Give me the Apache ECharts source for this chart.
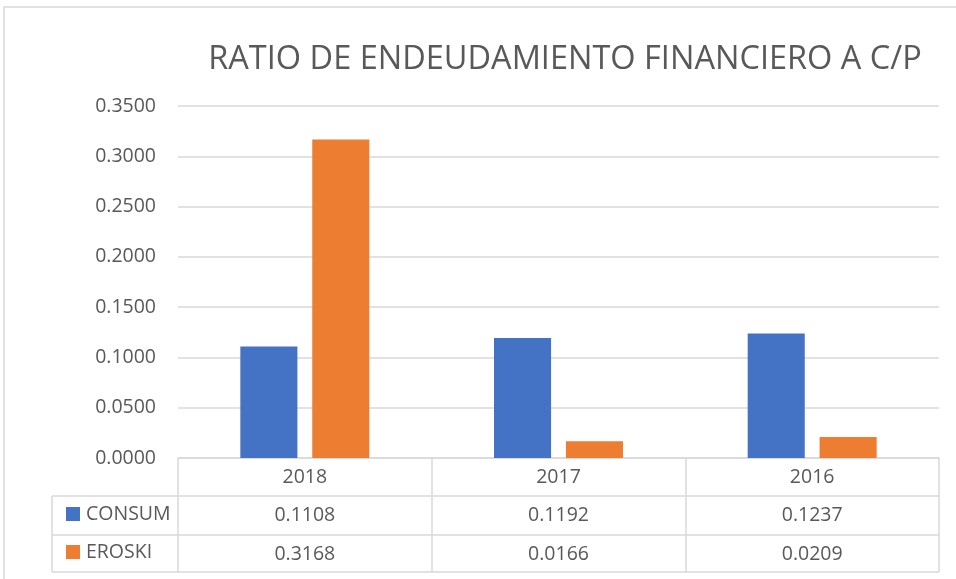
<!DOCTYPE html>
<html><head><meta charset="utf-8">
<script src="https://cdn.jsdelivr.net/npm/echarts@6/dist/echarts.min.js"></script>
<style>html,body{margin:0;padding:0;background:#fff}#c{width:956px;height:579px}</style>
</head><body><div id="c"></div>
<script>
const title = 'RATIO DE ENDEUDAMIENTO FINANCIERO A C/P';
const categories = ['2018', '2017', '2016'];
const seriesNames = ['CONSUM', 'EROSKI'];
const consum = [0.1108, 0.1192, 0.1237];
const eroski = [0.3168, 0.0166, 0.0209];
const yTicks = { min: 0, max: 0.35, interval: 0.05 };

const FONT = '"Open Sans", sans-serif';
const TXT = '#595959';
const LINE = '#d9d9d9';
const FS = 19.5;
const gridL = 178, gridR = 939, gridT = 106, gridB = 458;
const rowH = [496, 535, 572];

const chart = echarts.init(document.getElementById('c'), null, {renderer: 'canvas'});
const fmt = v => v.toFixed(4);
const tableAxis = (data, offset) => ({
  type: 'category', data: data.map(fmt), position: 'bottom', offset: offset,
  axisLine: {show: false}, axisTick: {show: false}, splitLine: {show: false},
  axisLabel: {color: TXT, fontFamily: FONT, fontSize: FS, margin: 9, interval: 0}
});
chart.setOption({
  animation: false,
  title: {text: title, left: 560, top: 38, textAlign: 'center',
    textStyle: {color: TXT, fontFamily: FONT, fontWeight: 400, fontSize: 32.5}},
  legend: {orient: 'vertical', left: 61, top: 499, itemWidth: 14, itemHeight: 14, itemGap: 18,
    icon: 'rect', data: seriesNames,
    textStyle: {color: TXT, fontFamily: FONT, fontSize: FS, padding: [0, 0, 0, 1]}},
  grid: {left: gridL, right: 956 - gridR, top: gridT, bottom: 579 - gridB, containLabel: false},
  xAxis: [
    {type: 'category', data: categories,
      axisLine: {show: true, lineStyle: {color: LINE, width: 1.5}},
      axisTick: {show: true, length: 114, lineStyle: {color: LINE, width: 1.5}},
      axisLabel: {color: TXT, fontFamily: FONT, fontSize: FS, margin: 9}},
    tableAxis(consum, 38),
    tableAxis(eroski, 77)
  ],
  yAxis: {type: 'value', min: yTicks.min, max: yTicks.max, interval: yTicks.interval,
    axisLine: {show: false}, axisTick: {show: false},
    axisLabel: {color: TXT, fontFamily: FONT, fontSize: FS, margin: 22, formatter: v => v.toFixed(4)},
    splitLine: {lineStyle: {color: LINE, width: 1.5}}},
  series: [
    {name: seriesNames[0], type: 'bar', data: consum, barWidth: '22.5%', barGap: '26%',
      itemStyle: {color: '#4472C4'}},
    {name: seriesNames[1], type: 'bar', data: eroski, barWidth: '22.5%', barGap: '26%',
      itemStyle: {color: '#ED7D31'}}
  ],
  graphic: [
    {type: 'rect', shape: {x: 4, y: 7, width: 960, height: 580}, style: {fill: 'none', stroke: LINE, lineWidth: 1.5}, silent: true},
    ...rowH.map(y => ({type: 'line', shape: {x1: 52, y1: y, x2: gridR, y2: y}, style: {stroke: LINE, lineWidth: 1.5}, silent: true})),
    {type: 'line', shape: {x1: 52, y1: rowH[0], x2: 52, y2: rowH[2]}, style: {stroke: LINE, lineWidth: 1.5}, silent: true}
  ]
});
</script></body></html>
